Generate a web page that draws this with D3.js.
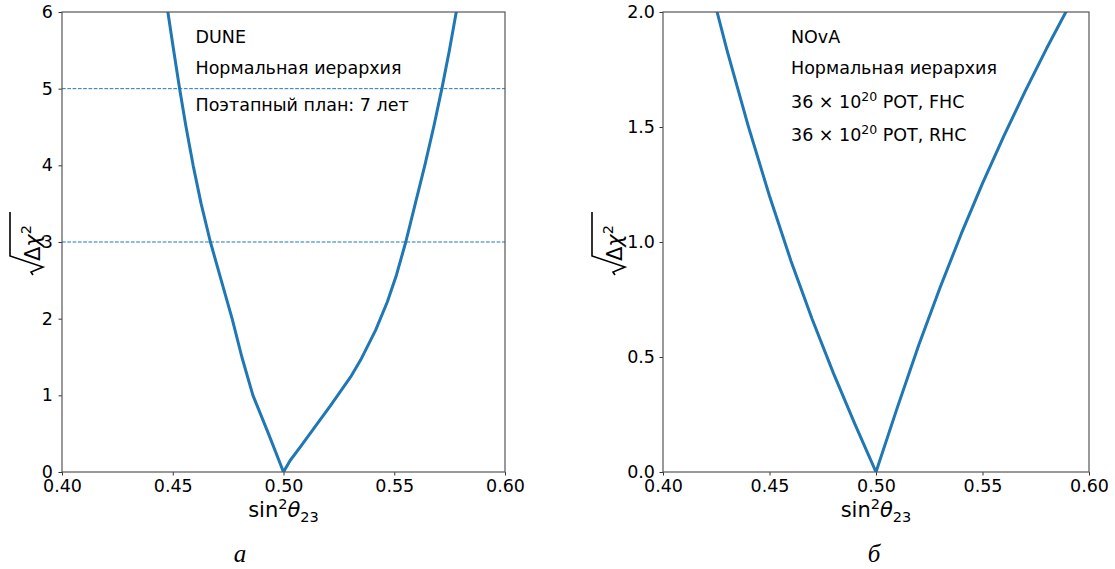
<!DOCTYPE html>
<html><head><meta charset="utf-8">
<script src="https://cdn.jsdelivr.net/npm/d3@7"></script>
<style>
body{margin:0;background:#fff;}
svg{display:block;font-family:"DejaVu Sans",sans-serif;}
</style></head>
<body><svg id="c" width="1115" height="569"></svg>
<script>
// DUNE panel (a)
const duneX = [0.4468,0.4478,0.4504,0.4531,0.4560,0.4592,0.4628,0.4670,0.4719,0.4768,0.4812,0.4862,0.4932,0.5000,0.5030,0.5077,0.5137,0.5213,0.5303,0.5348,0.5416,0.5469,0.5510,0.5552,0.5595,0.5638,0.5678,0.5715,0.5749,0.5780,0.5808];
const duneY = [6.20,6.00,5.50,5.00,4.50,4.00,3.50,3.00,2.50,2.00,1.50,1.00,0.50,0.00,0.15,0.33,0.57,0.87,1.24,1.46,1.85,2.22,2.57,3.00,3.50,4.00,4.50,5.00,5.50,6.00,6.50];
const duneLevels = [3,5];
const duneText = ["DUNE","Нормальная иерархия","Поэтапный план: 7 лет"];
const duneYTicks = [0,1,2,3,4,5,6];
// NOvA panel (б)
const novaX = [0.4240,0.4254,0.4300,0.4400,0.4500,0.4600,0.4700,0.4800,0.4900,0.5000,0.5100,0.5200,0.5300,0.5400,0.5500,0.5600,0.5700,0.5800,0.5900,0.5910];
const novaY = [2.04,2.00,1.835,1.505,1.20,0.92,0.665,0.43,0.21,0.00,0.28,0.55,0.80,1.035,1.255,1.46,1.655,1.84,2.015,2.03];
const novaText = ["NOvA","Нормальная иерархия",["36 × 10","20"," POT, FHC"],["36 × 10","20"," POT, RHC"]];
const novaYTicks = [0,0.5,1.0,1.5,2.0];
const xTicks = [0.40,0.45,0.50,0.55,0.60];
const captions = ["а","б"];

const svg = d3.select("#c");
const blue = "#1f77b4";
const FS = 17.5;

function panel(opt){
  const g = svg.append("g");
  const x = d3.scaleLinear().domain([0.40,0.60]).range([opt.x0,opt.x1]);
  const y = d3.scaleLinear().domain(opt.ydom).range([472,12]);
  const clipId = "clip"+opt.id;
  svg.append("clipPath").attr("id",clipId).append("rect")
    .attr("x",opt.x0).attr("y",12).attr("width",opt.x1-opt.x0).attr("height",460);
  (opt.levels||[]).forEach(l=>{
    g.append("line").attr("x1",opt.x0).attr("x2",opt.x1).attr("y1",y(l)).attr("y2",y(l))
      .attr("stroke",blue).attr("stroke-width",1).attr("stroke-dasharray","3.7,1.6");
  });
  const pts = opt.xs.map((v,i)=>[v,opt.ys[i]]);
  g.append("path").datum(pts).attr("clip-path",`url(#${clipId})`)
    .attr("d",d3.line().x(d=>x(d[0])).y(d=>y(d[1])))
    .attr("fill","none").attr("stroke",blue).attr("stroke-width",3).attr("stroke-linejoin","round");
  const xa = g.append("g").attr("transform","translate(0,472)")
    .call(d3.axisBottom(x).tickValues(xTicks).tickFormat(d3.format(".2f")).tickSize(3.5).tickPadding(4));
  const ya = g.append("g").attr("transform",`translate(${opt.x0},0)`)
    .call(d3.axisLeft(y).tickValues(opt.yticks).tickFormat(opt.yfmt).tickSize(3.5).tickPadding(opt.ypad));
  [xa,ya].forEach(a=>{
    a.select(".domain").remove();
    a.selectAll("line").attr("stroke","#333").attr("stroke-width",1);
    a.selectAll("text").attr("font-size",FS).attr("fill","#000").attr("font-family","DejaVu Sans");
  });
  g.append("rect").attr("x",opt.x0).attr("y",12).attr("width",opt.x1-opt.x0).attr("height",460)
    .attr("fill","none").attr("stroke","#555").attr("stroke-width",1.2);
  opt.text.forEach((t,i)=>{
    const tx = g.append("text").attr("x",opt.tx).attr("y",opt.ty[i]).attr("font-size",FS).attr("fill","#000");
    if(typeof t==="string") tx.text(t);
    else { tx.append("tspan").text(t[0]); tx.append("tspan").attr("dy",-7.5).attr("font-size",12.5).text(t[1]);
           tx.append("tspan").attr("dy",7.5).text(t[2]); }
  });
  const cx = (opt.x0+opt.x1)/2;
  const xl = g.append("text").attr("x",cx).attr("y",517).attr("text-anchor","middle").attr("font-size",21);
  xl.append("tspan").text("sin");
  xl.append("tspan").attr("dy",-8.5).attr("font-size",14.5).text("2");
  xl.append("tspan").attr("dy",8.5).attr("font-style","italic").text("θ");
  xl.append("tspan").attr("dy",5).attr("font-size",14.5).text("23");
  const yl = g.append("g").attr("transform",`translate(${opt.ylx},242) rotate(-90)`);
  const yt = yl.append("text").attr("x",-19).attr("y",0).attr("font-size",21);
  yt.append("tspan").text("Δ");
  yt.append("tspan").attr("font-style","italic").text("χ");
  yt.append("tspan").attr("dy",-9.5).attr("font-size",14.5).text("2");
  yl.append("path").attr("d","M-33,-7 L-30,-9 L-25,3 L-14,-30 L30,-30")
    .attr("fill","none").attr("stroke","#000").attr("stroke-width",1.6).attr("stroke-linejoin","miter");
  svg.append("text").attr("x",opt.capx).attr("y",562).attr("text-anchor","middle")
    .attr("font-family","Liberation Serif").attr("font-style","italic").attr("font-size",25).text(opt.caption);
}

panel({id:"a",x0:62,x1:505,ydom:[0,6],xs:duneX,ys:duneY,levels:duneLevels,yticks:duneYTicks,ypad:5.5,
  yfmt:d3.format("d"),text:duneText,tx:195.5,ty:[43,74,111],ylx:40,caption:captions[0],capx:240});
panel({id:"b",x0:663,x1:1089,ydom:[0,2],xs:novaX,ys:novaY,levels:[],yticks:novaYTicks,ypad:4.5,
  yfmt:d3.format(".1f"),text:novaText,tx:791,ty:[43,74,108,141],ylx:622,caption:captions[1],capx:874});
</script></body></html>
